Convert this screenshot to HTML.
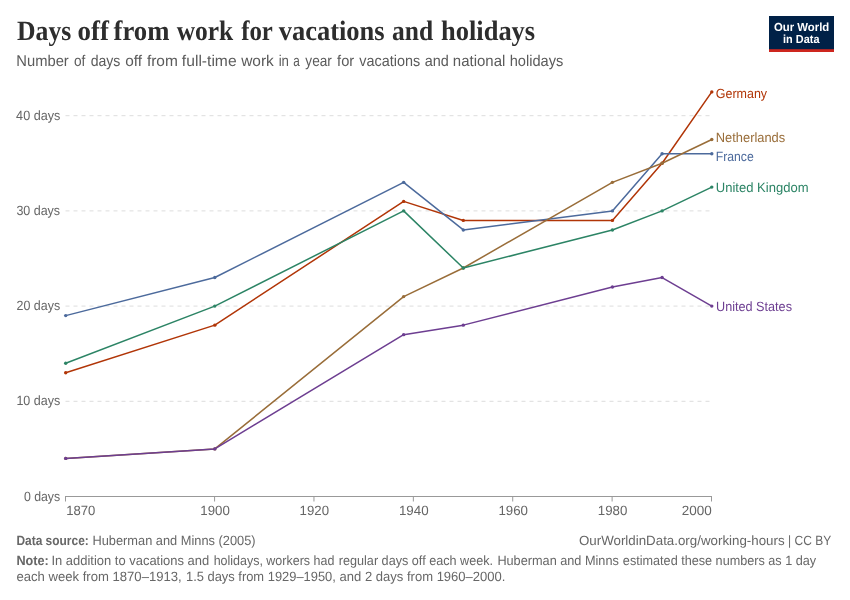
<!DOCTYPE html>
<html><head><meta charset="utf-8"><title>Days off from work for vacations and holidays</title>
<style>
html,body{margin:0;padding:0;background:#fff;}
body{width:850px;height:600px;overflow:hidden;font-family:"Liberation Sans",sans-serif;}
svg{display:block;will-change:transform;}
text{font-family:"Liberation Sans",sans-serif;text-rendering:geometricPrecision;}
text.serif{font-family:"Liberation Serif",serif;}
</style></head><body>
<svg width="850" height="600" viewBox="0 0 850 600">
<rect x="0" y="0" width="850" height="600" fill="#ffffff"/>
<rect x="769" y="16" width="65" height="36" fill="#002147"/>
<rect x="769" y="49.2" width="65" height="2.8" fill="#ce261e"/>
<line x1="65.5" x2="711.5" y1="401.30" y2="401.30" stroke="#dddddd" stroke-width="1" stroke-dasharray="4,4"/>
<line x1="65.5" x2="711.5" y1="306.10" y2="306.10" stroke="#dddddd" stroke-width="1" stroke-dasharray="4,4"/>
<line x1="65.5" x2="711.5" y1="210.90" y2="210.90" stroke="#dddddd" stroke-width="1" stroke-dasharray="4,4"/>
<line x1="65.5" x2="711.5" y1="115.70" y2="115.70" stroke="#dddddd" stroke-width="1" stroke-dasharray="4,4"/>
<line x1="65" x2="712" y1="496.5" y2="496.5" stroke="#999999" stroke-width="1"/>
<line x1="65.50" x2="65.50" y1="496.5" y2="501.5" stroke="#999999" stroke-width="1"/>
<line x1="214.58" x2="214.58" y1="496.5" y2="501.5" stroke="#999999" stroke-width="1"/>
<line x1="313.96" x2="313.96" y1="496.5" y2="501.5" stroke="#999999" stroke-width="1"/>
<line x1="413.35" x2="413.35" y1="496.5" y2="501.5" stroke="#999999" stroke-width="1"/>
<line x1="512.73" x2="512.73" y1="496.5" y2="501.5" stroke="#999999" stroke-width="1"/>
<line x1="612.12" x2="612.12" y1="496.5" y2="501.5" stroke="#999999" stroke-width="1"/>
<line x1="711.50" x2="711.50" y1="496.5" y2="501.5" stroke="#999999" stroke-width="1"/>
<polyline fill="none" stroke="#b13507" stroke-width="1.5" stroke-linejoin="round" stroke-linecap="round" points="65.70,372.74 214.80,325.14 403.66,201.38 463.30,220.42 612.40,220.42 662.10,163.30 711.80,91.90"/>
<g fill="#b13507"><circle cx="65.70" cy="372.74" r="1.7"/><circle cx="214.80" cy="325.14" r="1.7"/><circle cx="403.66" cy="201.38" r="1.7"/><circle cx="463.30" cy="220.42" r="1.7"/><circle cx="612.40" cy="220.42" r="1.7"/><circle cx="662.10" cy="163.30" r="1.7"/><circle cx="711.80" cy="91.90" r="1.7"/></g>
<polyline fill="none" stroke="#4c6a9c" stroke-width="1.5" stroke-linejoin="round" stroke-linecap="round" points="65.70,315.62 214.80,277.54 403.66,182.34 463.30,229.94 612.40,210.90 662.10,153.78 711.80,153.78"/>
<g fill="#4c6a9c"><circle cx="65.70" cy="315.62" r="1.7"/><circle cx="214.80" cy="277.54" r="1.7"/><circle cx="403.66" cy="182.34" r="1.7"/><circle cx="463.30" cy="229.94" r="1.7"/><circle cx="612.40" cy="210.90" r="1.7"/><circle cx="662.10" cy="153.78" r="1.7"/><circle cx="711.80" cy="153.78" r="1.7"/></g>
<polyline fill="none" stroke="#996d39" stroke-width="1.5" stroke-linejoin="round" stroke-linecap="round" points="65.70,458.42 214.80,448.90 403.66,296.58 463.30,268.02 612.40,182.34 662.10,163.30 711.80,139.50"/>
<g fill="#996d39"><circle cx="65.70" cy="458.42" r="1.7"/><circle cx="214.80" cy="448.90" r="1.7"/><circle cx="403.66" cy="296.58" r="1.7"/><circle cx="463.30" cy="268.02" r="1.7"/><circle cx="612.40" cy="182.34" r="1.7"/><circle cx="662.10" cy="163.30" r="1.7"/><circle cx="711.80" cy="139.50" r="1.7"/></g>
<polyline fill="none" stroke="#2c8465" stroke-width="1.5" stroke-linejoin="round" stroke-linecap="round" points="65.70,363.22 214.80,306.10 403.66,210.90 463.30,268.02 612.40,229.94 662.10,210.90 711.80,187.10"/>
<g fill="#2c8465"><circle cx="65.70" cy="363.22" r="1.7"/><circle cx="214.80" cy="306.10" r="1.7"/><circle cx="403.66" cy="210.90" r="1.7"/><circle cx="463.30" cy="268.02" r="1.7"/><circle cx="612.40" cy="229.94" r="1.7"/><circle cx="662.10" cy="210.90" r="1.7"/><circle cx="711.80" cy="187.10" r="1.7"/></g>
<polyline fill="none" stroke="#6d3e91" stroke-width="1.5" stroke-linejoin="round" stroke-linecap="round" points="65.70,458.42 214.80,448.90 403.66,334.66 463.30,325.14 612.40,287.06 662.10,277.54 711.80,306.10"/>
<g fill="#6d3e91"><circle cx="65.70" cy="458.42" r="1.7"/><circle cx="214.80" cy="448.90" r="1.7"/><circle cx="403.66" cy="334.66" r="1.7"/><circle cx="463.30" cy="325.14" r="1.7"/><circle cx="612.40" cy="287.06" r="1.7"/><circle cx="662.10" cy="277.54" r="1.7"/><circle cx="711.80" cy="306.10" r="1.7"/></g>
<text class="serif" x="17.03" y="40.30" font-size="28" font-weight="700" fill="#2d2d2d" textLength="54.29" lengthAdjust="spacingAndGlyphs">Days</text>
<text class="serif" x="77.62" y="40.30" font-size="28" font-weight="700" fill="#2d2d2d" textLength="31.29" lengthAdjust="spacingAndGlyphs">off</text>
<text class="serif" x="113.55" y="40.30" font-size="28" font-weight="700" fill="#2d2d2d" textLength="55.85" lengthAdjust="spacingAndGlyphs">from</text>
<text class="serif" x="176.63" y="40.30" font-size="28" font-weight="700" fill="#2d2d2d" textLength="56.53" lengthAdjust="spacingAndGlyphs">work</text>
<text class="serif" x="241.17" y="40.30" font-size="28" font-weight="700" fill="#2d2d2d" textLength="31.65" lengthAdjust="spacingAndGlyphs">for</text>
<text class="serif" x="278.64" y="40.30" font-size="28" font-weight="700" fill="#2d2d2d" textLength="106.02" lengthAdjust="spacingAndGlyphs">vacations</text>
<text class="serif" x="392.01" y="40.30" font-size="28" font-weight="700" fill="#2d2d2d" textLength="41.09" lengthAdjust="spacingAndGlyphs">and</text>
<text class="serif" x="441.10" y="40.30" font-size="28" font-weight="700" fill="#2d2d2d" textLength="94.03" lengthAdjust="spacingAndGlyphs">holidays</text>
<text x="16.30" y="66.40" font-size="15.5" fill="#5b5b5b" textLength="52.46" lengthAdjust="spacingAndGlyphs">Number</text>
<text x="74.03" y="66.40" font-size="15.5" fill="#5b5b5b" textLength="11.38" lengthAdjust="spacingAndGlyphs">of</text>
<text x="90.64" y="66.40" font-size="15.5" fill="#5b5b5b" textLength="29.76" lengthAdjust="spacingAndGlyphs">days</text>
<text x="125.20" y="66.40" font-size="15.5" fill="#5b5b5b" textLength="16.81" lengthAdjust="spacingAndGlyphs">off</text>
<text x="146.88" y="66.40" font-size="15.5" fill="#5b5b5b" textLength="30.95" lengthAdjust="spacingAndGlyphs">from</text>
<text x="181.88" y="66.40" font-size="15.5" fill="#5b5b5b" textLength="54.71" lengthAdjust="spacingAndGlyphs">full-time</text>
<text x="241.16" y="66.40" font-size="15.5" fill="#5b5b5b" textLength="32.68" lengthAdjust="spacingAndGlyphs">work</text>
<text x="278.67" y="66.40" font-size="15.5" fill="#5b5b5b" textLength="10.30" lengthAdjust="spacingAndGlyphs">in</text>
<text x="293.29" y="66.40" font-size="15.5" fill="#5b5b5b" textLength="6.52" lengthAdjust="spacingAndGlyphs">a</text>
<text x="305.32" y="66.40" font-size="15.5" fill="#5b5b5b" textLength="26.56" lengthAdjust="spacingAndGlyphs">year</text>
<text x="337.09" y="66.40" font-size="15.5" fill="#5b5b5b" textLength="17.07" lengthAdjust="spacingAndGlyphs">for</text>
<text x="359.35" y="66.40" font-size="15.5" fill="#5b5b5b" textLength="60.88" lengthAdjust="spacingAndGlyphs">vacations</text>
<text x="424.63" y="66.40" font-size="15.5" fill="#5b5b5b" textLength="24.10" lengthAdjust="spacingAndGlyphs">and</text>
<text x="452.83" y="66.40" font-size="15.5" fill="#5b5b5b" textLength="52.46" lengthAdjust="spacingAndGlyphs">national</text>
<text x="509.67" y="66.40" font-size="15.5" fill="#5b5b5b" textLength="53.62" lengthAdjust="spacingAndGlyphs">holidays</text>
<text x="774.01" y="30.80" font-size="11.7" font-weight="700" fill="#ffffff" textLength="55.20" lengthAdjust="spacingAndGlyphs">Our World</text>
<text x="783.10" y="42.60" font-size="11.7" font-weight="700" fill="#ffffff" textLength="36.35" lengthAdjust="spacingAndGlyphs">in Data</text>
<text x="16.11" y="119.70" font-size="13.4" fill="#666666" textLength="44.19" lengthAdjust="spacingAndGlyphs">40 days</text>
<text x="16.39" y="214.90" font-size="13.4" fill="#666666" textLength="43.74" lengthAdjust="spacingAndGlyphs">30 days</text>
<text x="16.57" y="310.10" font-size="13.4" fill="#666666" textLength="43.56" lengthAdjust="spacingAndGlyphs">20 days</text>
<text x="16.38" y="405.30" font-size="13.4" fill="#666666" textLength="43.77" lengthAdjust="spacingAndGlyphs">10 days</text>
<text x="23.89" y="500.80" font-size="13.4" fill="#666666" textLength="36.29" lengthAdjust="spacingAndGlyphs">0 days</text>
<text x="66.21" y="514.70" font-size="13.4" fill="#666666" textLength="29.11" lengthAdjust="spacingAndGlyphs">1870</text>
<text x="200.28" y="514.70" font-size="13.4" fill="#666666" textLength="29.49" lengthAdjust="spacingAndGlyphs">1900</text>
<text x="299.62" y="514.70" font-size="13.4" fill="#666666" textLength="29.39" lengthAdjust="spacingAndGlyphs">1920</text>
<text x="398.96" y="514.70" font-size="13.4" fill="#666666" textLength="29.69" lengthAdjust="spacingAndGlyphs">1940</text>
<text x="498.45" y="514.70" font-size="13.4" fill="#666666" textLength="29.54" lengthAdjust="spacingAndGlyphs">1960</text>
<text x="597.82" y="514.70" font-size="13.4" fill="#666666" textLength="29.51" lengthAdjust="spacingAndGlyphs">1980</text>
<text x="681.65" y="514.70" font-size="13.4" fill="#666666" textLength="30.01" lengthAdjust="spacingAndGlyphs">2000</text>
<text x="715.73" y="97.60" font-size="13.4" fill="#b13507" textLength="51.36" lengthAdjust="spacingAndGlyphs">Germany</text>
<text x="715.82" y="142.00" font-size="13.4" fill="#996d39" textLength="69.39" lengthAdjust="spacingAndGlyphs">Netherlands</text>
<text x="715.76" y="161.00" font-size="13.4" fill="#4c6a9c" textLength="38.01" lengthAdjust="spacingAndGlyphs">France</text>
<text x="715.81" y="192.00" font-size="13.4" fill="#2c8465" textLength="92.70" lengthAdjust="spacingAndGlyphs">United Kingdom</text>
<text x="715.99" y="311.00" font-size="13.4" fill="#6d3e91" textLength="76.01" lengthAdjust="spacingAndGlyphs">United States</text>
<text x="16.42" y="545.20" font-size="13.4" font-weight="700" fill="#676767" textLength="72.36" lengthAdjust="spacingAndGlyphs">Data source:</text>
<text x="92.41" y="545.20" font-size="13.4" fill="#676767" textLength="163.20" lengthAdjust="spacingAndGlyphs">Huberman and Minns (2005)</text>
<text x="578.97" y="545.20" font-size="13.4" fill="#676767" textLength="205.63" lengthAdjust="spacingAndGlyphs">OurWorldinData.org/working-hours</text>
<text x="788.08" y="545.20" font-size="13.4" fill="#676767" textLength="43.05" lengthAdjust="spacingAndGlyphs">| CC BY</text>
<text x="16.45" y="565.20" font-size="13.4" font-weight="700" fill="#676767" textLength="32.38" lengthAdjust="spacingAndGlyphs">Note:</text>
<text x="51.41" y="565.20" font-size="13.4" fill="#676767" textLength="157.83" lengthAdjust="spacingAndGlyphs">In addition to vacations and</text>
<text x="213.64" y="565.20" font-size="13.4" fill="#676767" textLength="120.70" lengthAdjust="spacingAndGlyphs">holidays, workers had</text>
<text x="338.78" y="565.20" font-size="13.4" fill="#676767" textLength="154.32" lengthAdjust="spacingAndGlyphs">regular days off each week.</text>
<text x="497.39" y="565.20" font-size="13.4" fill="#676767" textLength="121.48" lengthAdjust="spacingAndGlyphs">Huberman and Minns</text>
<text x="622.85" y="565.20" font-size="13.4" fill="#676767" textLength="193.29" lengthAdjust="spacingAndGlyphs">estimated these numbers as 1 day</text>
<text x="16.42" y="580.70" font-size="13.4" fill="#676767" textLength="165.31" lengthAdjust="spacingAndGlyphs">each week from 1870–1913,</text>
<text x="185.96" y="580.70" font-size="13.4" fill="#676767" textLength="149.92" lengthAdjust="spacingAndGlyphs">1.5 days from 1929–1950,</text>
<text x="339.59" y="580.70" font-size="13.4" fill="#676767" textLength="165.89" lengthAdjust="spacingAndGlyphs">and 2 days from 1960–2000.</text>
</svg></body></html>
